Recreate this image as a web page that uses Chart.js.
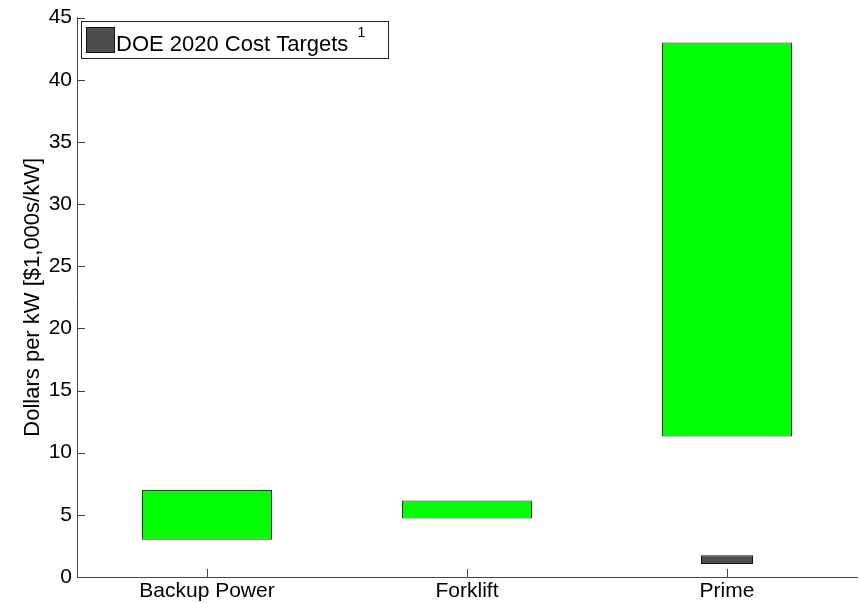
<!DOCTYPE html>
<html>
<head>
<meta charset="utf-8">
<script src="https://cdn.jsdelivr.net/npm/chart.js@4/dist/chart.umd.min.js"></script>
<style>
  html, body { margin: 0; padding: 0; background: #fff; }
  #wrap { width: 859px; height: 603px; }
</style>
</head>
<body>
<div id="wrap"><canvas id="costChart" width="859" height="603"></canvas></div>
<script>
// Rangos de costo por aplicación (miles de USD por kW)
const categories = ['Backup Power', 'Forklift', 'Prime'];
const rangeLow   = [3.0, 4.7, 11.3];
const rangeHigh  = [7.0, 6.15, 43.0];

// Metas DOE 2020 (solo Prime)
const targetLow  = [null, null, 1.05];
const targetHigh = [null, null, 1.75];

const yMin = 0, yMax = 45, yStep = 5;
const yTitle = 'Dollars per kW [$1,000s/kW]';
const legendLabel = 'DOE 2020 Cost Targets';
const legendNote = '1';

const FONT = '"Liberation Sans", Arial, Helvetica, sans-serif';
const AXIS = '#444';

function pairs(lo, hi) {
    return lo.map(function (v, i) { return v == null ? null : [v, hi[i]]; });
}

// marcas de eje hacia adentro, estilo MATLAB
const insideTicks = {
    id: 'insideTicks',
    afterDraw: function (chart) {
        const ctx = chart.ctx;
        const x = chart.scales.x, y = chart.scales.y;
        const len = 8;
        ctx.save();
        ctx.strokeStyle = AXIS;
        ctx.lineWidth = 1;
        ctx.beginPath();
        y.ticks.forEach(function (t, i) {
            const py = Math.round(y.getPixelForTick(i)) + 0.5;
            ctx.moveTo(chart.chartArea.left, py);
            ctx.lineTo(chart.chartArea.left + len, py);
        });
        x.ticks.forEach(function (t, i) {
            const px = Math.round(x.getPixelForTick(i)) + 0.5;
            ctx.moveTo(px, chart.chartArea.bottom);
            ctx.lineTo(px, chart.chartArea.bottom - len);
        });
        ctx.stroke();
        ctx.restore();
    }
};

// leyenda con recuadro arriba a la izquierda
const boxLegend = {
    id: 'boxLegend',
    afterDraw: function (chart) {
        const ctx = chart.ctx;
        const ds = chart.data.datasets[1];
        const bx = 81.5, by = 21.5, bw = 307, bh = 37;
        ctx.save();
        ctx.fillStyle = '#fff';
        ctx.fillRect(bx, by, bw, bh);
        ctx.strokeStyle = '#222';
        ctx.lineWidth = 1;
        ctx.strokeRect(bx, by, bw, bh);

        ctx.fillStyle = ds.backgroundColor;
        ctx.fillRect(86.5, 27.5, 28, 25);
        ctx.strokeStyle = ds.borderColor;
        ctx.strokeRect(86.5, 27.5, 28, 25);

        ctx.fillStyle = '#000';
        ctx.textBaseline = 'alphabetic';
        ctx.font = '22px ' + FONT;
        ctx.fillText(legendLabel, 116, 51);
        const w = ctx.measureText(legendLabel + ' ').width;
        ctx.font = '14px ' + FONT;
        ctx.fillText(legendNote, 116 + w + 3, 37);
        ctx.restore();
    }
};

new Chart(document.getElementById('costChart'), {
    type: 'bar',
    data: {
        labels: categories,
        datasets: [{
            label: 'Range',
            data: pairs(rangeLow, rangeHigh),
            backgroundColor: '#00ff00',
            borderColor: '#333',
            borderWidth: 1,
            borderSkipped: false,
            grouped: false,
            categoryPercentage: 1,
            barPercentage: 0.5
        }, {
            label: legendLabel,
            data: pairs(targetLow, targetHigh),
            backgroundColor: '#4d4d4d',
            borderColor: '#111',
            borderWidth: 1,
            borderSkipped: false,
            grouped: false,
            categoryPercentage: 1,
            barPercentage: 0.2
        }]
    },
    options: {
        responsive: false,
        animation: false,
        devicePixelRatio: 1,
        layout: { padding: { top: 15, right: 2, left: 0, bottom: 0 } },
        plugins: {
            legend: { display: false },
            tooltip: { enabled: false }
        },
        scales: {
            x: {
                type: 'category',
                offset: true,
                grid: { display: false, drawTicks: false },
                border: { display: true, color: AXIS, width: 1 },
                ticks: { color: '#000', padding: 2, font: { family: FONT, size: 21 } },
                afterFit: function (s) { s.height = 26; }
            },
            y: {
                min: yMin,
                max: yMax,
                grid: { display: false, drawTicks: false },
                border: { display: true, color: AXIS, width: 1 },
                ticks: { stepSize: yStep, color: '#000', padding: 5, font: { family: FONT, size: 21 } },
                title: {
                    display: true,
                    text: yTitle,
                    color: '#000',
                    font: { family: FONT, size: 22 },
                    padding: { top: 20, bottom: 0 }
                },
                afterFit: function (s) { s.width = 77; }
            }
        }
    },
    plugins: [insideTicks, boxLegend]
});
</script>
</body>
</html>
